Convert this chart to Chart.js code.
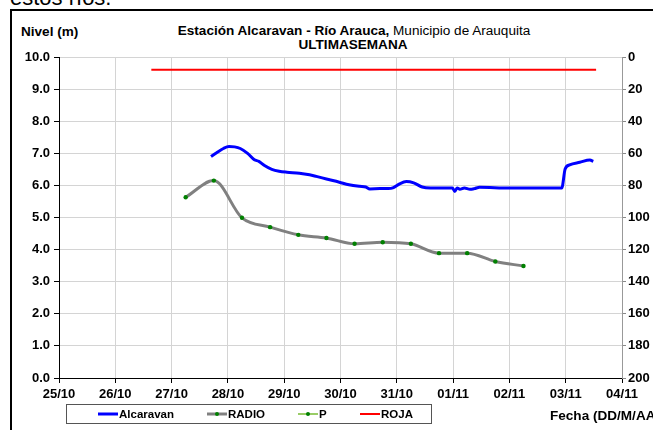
<!DOCTYPE html>
<html><head><meta charset="utf-8">
<script src="https://cdn.jsdelivr.net/npm/chart.js@4.4.1/dist/chart.umd.min.js"></script>
<style>
html,body{margin:0;padding:0;background:#fff;overflow:hidden}
#wrap{position:relative;width:653px;height:430px;overflow:hidden;font-family:'Liberation Sans',Arial,sans-serif}
canvas{position:absolute;left:0;top:0}
.t{position:absolute;white-space:nowrap;color:#000;line-height:1}
#frame{position:absolute;left:10px;top:9px;width:700px;height:500px;border-left:2px solid #000;border-top:2px solid #000}
.sx{transform:scaleX(1.13);transform-origin:center center}
</style></head>
<body><div id="wrap">
<div class="t" style="left:10px;top:-13px;font-size:22px">estos ríos.</div>
<div id="frame"></div>
<div class="t" style="left:21px;top:26px;font-size:12px;font-weight:bold;transform:scaleX(1.13);transform-origin:left center">Nivel (m)</div>
<div class="t sx" style="left:0;width:708px;text-align:center;top:25px;font-size:12px"><b>Estación Alcaravan - Río Arauca,</b> Municipio de Arauquita</div>
<div class="t sx" style="left:0;width:706px;text-align:center;top:39px;font-size:12px;font-weight:bold">ULTIMASEMANA</div>
<canvas id="c" width="653" height="430"></canvas>
<div class="t" style="left:550px;top:410px;font-size:12px;font-weight:bold;transform:scaleX(1.13);transform-origin:left center">Fecha (DD/M/AA)</div>
</div>
<script>
// ---- data (x = days since 25/10 00:00) ----
const dayLabels = ['25/10','26/10','27/10','28/10','29/10','30/10','31/10','01/11','02/11','03/11','04/11'];
const leftTicks = [0,1,2,3,4,5,6,7,8,9,10];
const rightTicks = [0,20,40,60,80,100,120,140,160,180,200];

const alcTime  = [2.70,2.80,2.92,3.02,3.12,3.22,3.35,3.47,3.55,3.65,3.78,3.91,4.05,4.27,4.45,4.57,4.75,4.98,5.15,5.34,5.45,5.52,5.70,5.85,5.93,6.05,6.17,6.30,6.45,6.60,6.99,7.03,7.07,7.12,7.20,7.30,7.38,7.47,8.00,8.50,8.93,8.99,9.07,9.25,9.43,9.49];
const alcLevel = [6.90,7.02,7.15,7.21,7.20,7.15,7.00,6.80,6.75,6.62,6.50,6.44,6.41,6.38,6.33,6.28,6.20,6.10,6.02,5.97,5.95,5.89,5.90,5.90,5.92,6.05,6.12,6.08,5.95,5.92,5.92,5.81,5.92,5.88,5.92,5.88,5.90,5.94,5.92,5.92,5.92,6.51,6.64,6.72,6.79,6.75];

const radioTime  = [2.25,2.75,3.25,3.75,4.25,4.75,5.25,5.75,6.25,6.75,7.25,7.75,8.25];
const radioLevel = [5.63,6.15,4.99,4.70,4.46,4.36,4.18,4.23,4.18,3.89,3.89,3.63,3.49];

const pTime = [];
const pValue = [];

const rojaTime  = [1.64,9.54];
const rojaLevel = [9.6,9.6];

const pts = (xs,ys)=>xs.map((x,i)=>({x:x,y:ys[i]}));

const FONT = "'Liberation Sans', Arial, sans-serif";
Chart.defaults.font.family = FONT;
Chart.defaults.color = '#000';

const legendBox = {
  id:'legendBox',
  afterDraw(chart){
    const ctx = chart.ctx;
    ctx.save();
    ctx.strokeStyle = '#555'; ctx.lineWidth = 1;
    ctx.strokeRect(66.5,404.5,365,19);
    const xs = [98,207,298,360];
    const y = 414;
    ctx.font = "bold 11.5px " + FONT;
    ctx.textBaseline = 'middle'; ctx.textAlign = 'left'; ctx.fillStyle = '#000';
    chart.data.datasets.forEach((ds,i)=>{
      const x = xs[i];
      ctx.strokeStyle = ds.borderColor; ctx.lineWidth = Math.min(ds.borderWidth,3);
      ctx.beginPath(); ctx.moveTo(x,y); ctx.lineTo(x+20,y); ctx.stroke();
      if (ds.legendDot){
        ctx.fillStyle = ds.pointBackgroundColor;
        ctx.beginPath(); ctx.arc(x+10,y,2,0,Math.PI*2); ctx.fill();
      }
      ctx.fillStyle = '#000';
      ctx.fillText(ds.label, x+21, y+0.5);
    });
    ctx.restore();
  }
};

new Chart(document.getElementById('c'), {
  type:'line',
  data:{datasets:[
    {label:'Alcaravan', data:pts(alcTime,alcLevel), borderColor:'#0000ff', borderWidth:3, pointRadius:0, cubicInterpolationMode:'monotone', yAxisID:'y'},
    {label:'RADIO', data:pts(radioTime,radioLevel), borderColor:'#808080', borderWidth:3, pointRadius:2.2, pointBackgroundColor:'#008000', pointBorderWidth:0, cubicInterpolationMode:'monotone', legendDot:true, yAxisID:'y'},
    {label:'P', data:pts(pTime,pValue), borderColor:'#99cc66', borderWidth:2, pointRadius:2.2, pointBackgroundColor:'#008000', pointBorderWidth:0, legendDot:true, yAxisID:'y'},
    {label:'ROJA', data:pts(rojaTime,rojaLevel), borderColor:'#ff0000', borderWidth:2, pointRadius:0, yAxisID:'y'}
  ]},
  options:{
    responsive:false, animation:false, devicePixelRatio:1,
    layout:{padding:{top:57,left:0,right:0,bottom:0}},
    plugins:{legend:{display:false}, tooltip:{enabled:false}},
    scales:{
      x:{type:'linear', min:0, max:10,
        afterFit(s){ s.height = 52; },
        afterBuildTicks(s){ s.ticks = leftTicks.map(v=>({value:v})); },
        ticks:{autoSkip:false, maxRotation:0, padding:4, font:{size:13, weight:'bold'}, callback:(v)=>dayLabels[v] ?? ''},
        grid:{color:'#d4d4d4', lineWidth:1, tickLength:5, tickColor:'#000'},
        border:{color:'#000', width:1}
      },
      y:{position:'left', min:0, max:10,
        afterFit(s){ s.width = 59; },
        afterBuildTicks(s){ s.ticks = leftTicks.map(v=>({value:v})); },
        ticks:{padding:4, font:{size:13, weight:'bold'}, callback:(v)=>Number(v).toFixed(1)},
        grid:{color:'#d4d4d4', lineWidth:1, tickLength:5, tickColor:'#000'},
        border:{color:'#000', width:1}
      },
      y2:{position:'right', display:true, min:0, max:200, reverse:true,
        afterFit(s){ s.width = 31; },
        afterBuildTicks(s){ s.ticks = rightTicks.map(v=>({value:v})); },
        ticks:{padding:2, font:{size:13, weight:'bold'}, callback:(v)=>String(v)},
        grid:{drawOnChartArea:false, tickLength:4, color:'#888'},
        border:{color:'#999', width:1}
      }
    }
  },
  plugins:[legendBox]
});
</script>
</body></html>
